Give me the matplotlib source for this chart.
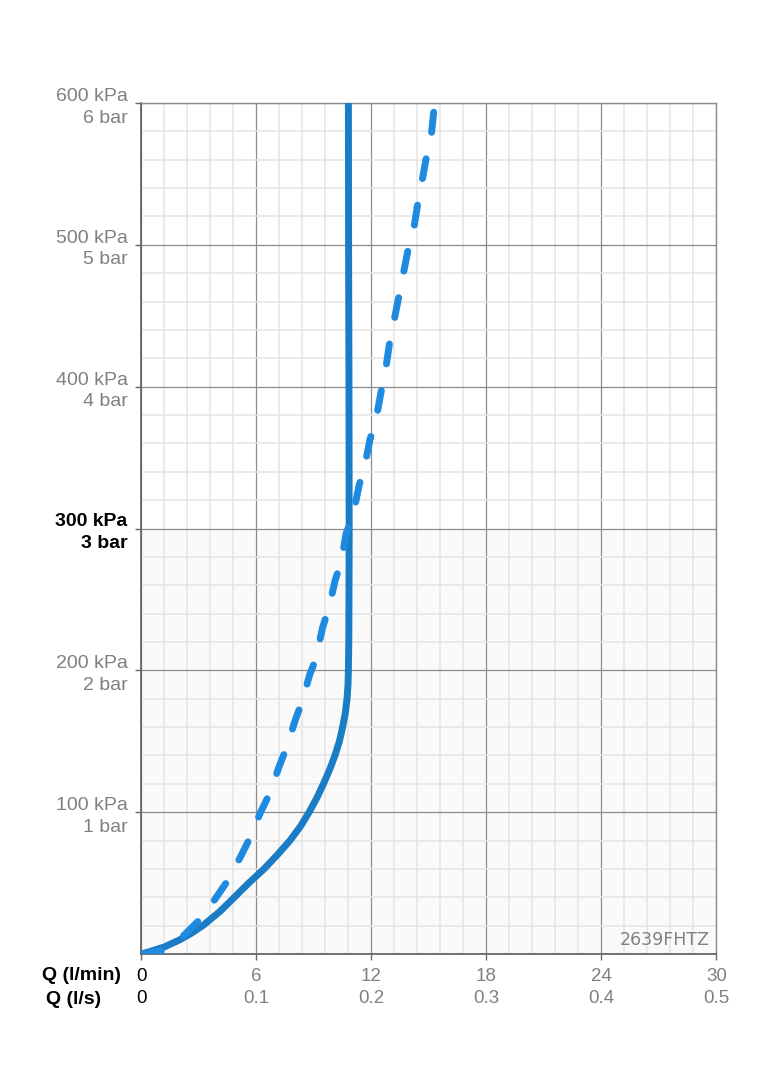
import matplotlib
matplotlib.use("Agg")
import matplotlib.pyplot as plt
from matplotlib.ticker import MultipleLocator

# solid curve
solid_q = [0, 0.5, 1.2, 2.0, 2.65, 3.2, 4.1, 4.85, 5.6, 6.4, 7.1, 7.75, 8.3, 8.75, 9.15, 9.5, 9.82,
           10.1, 10.33, 10.5, 10.64, 10.73, 10.78, 10.8, 10.82, 10.83, 10.84, 10.83, 10.81, 10.8]
solid_p = [0, 2, 5, 10, 15, 20, 30, 40, 50, 60, 70, 80, 90, 100, 110, 120, 130,
           140, 150, 160, 170, 180, 190, 200, 220, 250, 300, 400, 500, 600]

# dashed curve
dash_q = [0, 1.13, 2.2, 2.99, 3.85, 4.5, 5.15, 5.67, 6.2, 6.72, 7.17, 7.58, 8.03, 8.41, 8.78, 9.1, 9.45,
          9.8, 10.1, 10.45, 10.67, 11.07, 11.35, 11.65, 11.93, 12.25, 12.5, 12.73, 12.94, 13.93, 14.22,
          14.43, 14.64, 14.9, 15.13, 15.3]
dash_p = [0, 2.3, 12.9, 23.5, 38.8, 51.7, 68, 82, 99.4, 114, 131.6, 145.8, 165, 179, 197, 208, 230,
          245, 263, 278, 296, 311, 330, 344, 363, 377.6, 396, 411, 430, 497.6, 512, 530, 545, 564, 578, 600]

x_ticks = [0, 6, 12, 18, 24, 30]
x_ls = ["0", "0.1", "0.2", "0.3", "0.4", "0.5"]
y_ticks = [100, 200, 300, 400, 500, 600]
y_labels = ["100 kPa\n1 bar", "200 kPa\n2 bar", "300 kPa\n3 bar", "400 kPa\n4 bar", "500 kPa\n5 bar", "600 kPa\n6 bar"]

plt.rcParams['font.family'] = ['Liberation Sans', 'DejaVu Sans']

fig = plt.figure(figsize=(7.64, 10.8), dpi=100)
ax = fig.add_axes([141.4 / 764, 126 / 1080, 575 / 764, 851 / 1080])

ax.axhspan(0, 300, color='#fafafa', zorder=0, lw=0)

ax.plot(solid_q, solid_p, color='#1b7cc6', lw=5, solid_capstyle='round',
        solid_joinstyle='round', zorder=3)
ax.plot(dash_q, dash_p, color='#1e8ae0', lw=5, linestyle=(0, (2.9, 3.9)),
        dash_capstyle='round', dash_joinstyle='round', zorder=4)

ax.set_xlim(0, 30)
ax.set_ylim(0, 600)

ax.xaxis.set_minor_locator(MultipleLocator(1.2))
ax.yaxis.set_minor_locator(MultipleLocator(20))
ax.set_axisbelow(True)
ax.grid(which='minor', color='#e4e4e4', lw=1.1)
ax.grid(which='major', color='#8c8c8c', lw=0.9)
ax.tick_params(which='minor', length=0)
ax.tick_params(which='major', length=4, width=1, color='#666666')

ax.set_xticks(x_ticks)
ax.set_xticklabels([f"{a}\n{b}" for a, b in zip(x_ticks, x_ls)], fontsize=13.5, linespacing=1.4,
                   family=['Liberation Sans Narrow', 'Liberation Sans'])
ax.tick_params(axis='x', pad=6)
for i, t in enumerate(ax.get_xticklabels()):
    t.set_color('black' if i == 0 else '#808080')

ax.set_yticks(y_ticks)
ax.set_yticklabels(y_labels, fontsize=14, linespacing=1.35, multialignment='right')
ax.tick_params(axis='y', pad=6)
for lab, t in zip(y_ticks, ax.get_yticklabels()):
    if lab == 300:
        t.set_color('black')
        t.set_fontweight('bold')
    else:
        t.set_color('#808080')

for s in ['left', 'bottom']:
    ax.spines[s].set_color('#666666')
    ax.spines[s].set_linewidth(1.3)
for s in ['top', 'right']:
    ax.spines[s].set_color('#8c8c8c')
    ax.spines[s].set_linewidth(1.0)

fig.text(42 / 764, 1 - 976 / 1080, "Q (l/min)", fontsize=14, fontweight='bold', va='center', ha='left')
fig.text(46 / 764, 1 - 999 / 1080, "Q (l/s)", fontsize=14, fontweight='bold', va='center', ha='left')

ax.text(0.988, 0.006, "2639FHTZ", transform=ax.transAxes, ha='right', va='bottom',
        fontsize=12.5, color='#808080', family=['DejaVu Sans'])

fig.savefig('out.png', dpi=100)
